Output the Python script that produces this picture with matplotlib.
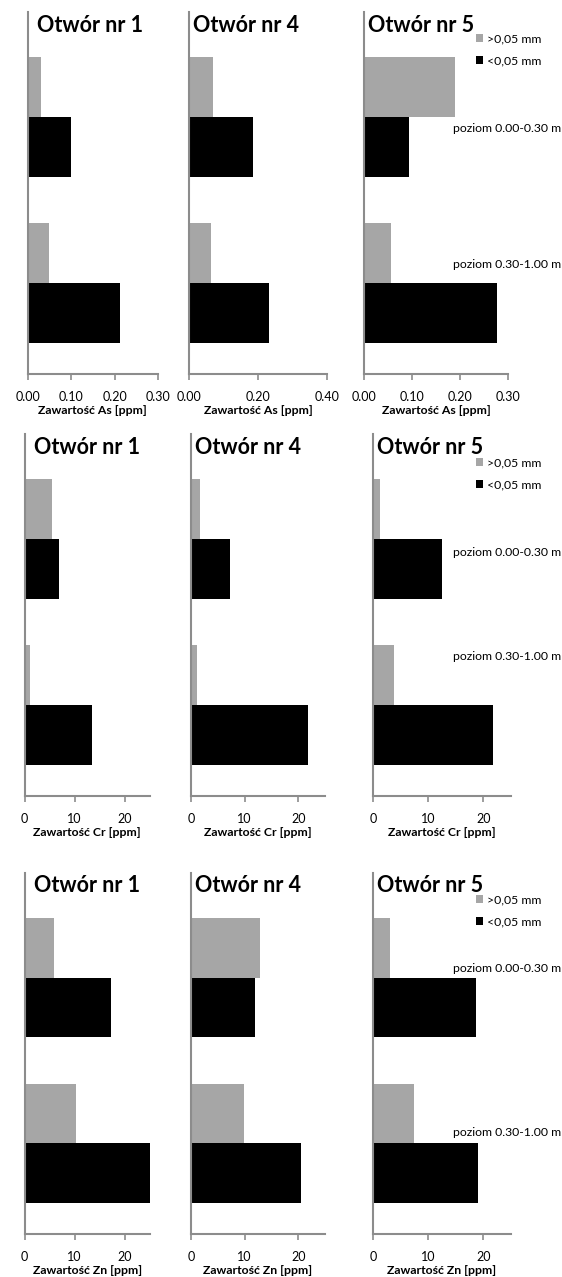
import numpy as np
import matplotlib
matplotlib.use("Agg")
import matplotlib.pyplot as plt

plt.rcParams['font.family'] = ['Lato', 'DejaVu Sans']

holes = ['Otwór nr 1', 'Otwór nr 4', 'Otwór nr 5']
levels = ['poziom 0.00-0.30 m', 'poziom 0.30-1.00 m']
fractions = ['>0,05 mm', '<0,05 mm']

# [hole][level]
as_coarse = [[0.03, 0.05], [0.071, 0.064], [0.19, 0.056]]
as_fine = [[0.10, 0.213], [0.185, 0.232], [0.093, 0.278]]
cr_coarse = [[5.5, 1.1], [1.6, 1.1], [1.2, 3.8]]
cr_fine = [[6.9, 13.4], [7.3, 21.8], [12.5, 21.8]]
zn_coarse = [[5.9, 10.2], [12.9, 9.8], [3.1, 7.5]]
zn_fine = [[17.2, 25.0], [12.0, 20.6], [18.7, 19.1]]

W, H = 562, 1277
GREY = '#a6a6a6'
AXC = '#8c8c8c'

def box(x0, x1, top, bot):
    return [x0 / W, 1 - bot / H, (x1 - x0) / W, (bot - top) / H]

rows = [
    dict(coarse=as_coarse, fine=as_fine, label='Zawartość As [ppm]',
         top=12, bot=374, cols=[(27.7, 158), (189, 327), (364, 508)],
         xlims=[0.3, 0.4, 0.3], steps=[0.1, 0.2, 0.1], fmt='%.2f',
         leg=50, lev=[128, 265]),
    dict(coarse=cr_coarse, fine=cr_fine, label='Zawartość Cr [ppm]',
         top=434, bot=796, cols=[(24.5, 150), (191, 325), (373, 511)],
         xlims=[25, 25, 25], steps=[10, 10, 10], fmt='%d',
         leg=474, lev=[552, 656]),
    dict(coarse=zn_coarse, fine=zn_fine, label='Zawartość Zn [ppm]',
         top=873, bot=1234, cols=[(24.5, 150), (191, 325), (373, 511)],
         xlims=[25, 25, 25], steps=[10, 10, 10], fmt='%d',
         leg=911, lev=[969, 1133]),
]

fig = plt.figure(figsize=(W / 100, H / 100), dpi=100)
pos = np.arange(len(levels))
h = 0.36

for r in rows:
    for i, (x0, x1) in enumerate(r['cols']):
        ax = fig.add_axes(box(x0, x1, r['top'], r['bot']))
        b1 = ax.barh(pos - h / 2, r['coarse'][i], height=h, color=GREY, label=fractions[0])
        b2 = ax.barh(pos + h / 2, r['fine'][i], height=h, color='black', label=fractions[1])
        ax.set_ylim(1.548, -0.633)
        ax.set_xlim(0, r['xlims'][i])
        ax.set_xticks(np.arange(0, r['xlims'][i] + 1e-9, r['steps'][i]))
        ax.xaxis.set_major_formatter(matplotlib.ticker.FormatStrFormatter(r['fmt']))
        ax.set_yticks([])
        for s in ['top', 'right']:
            ax.spines[s].set_visible(False)
        for s in ['left', 'bottom']:
            ax.spines[s].set_color(AXC)
            ax.spines[s].set_linewidth(1.5)
        ax.tick_params(axis='x', direction='out', length=4, width=1.2, color=AXC,
                       labelsize=9, pad=8)
        ax.set_xlabel(r['label'], fontsize=8.8, fontweight='bold', labelpad=1.5)
        fig.text((x0 + (9 if i == 0 else 4)) / W, 1 - (r['top'] + 13) / H, holes[i],
                 fontsize=15.5, fontweight='bold', va='center', ha='left')
        if i == 2:
            fig.legend(handles=[b1, b2], loc='center left',
                       bbox_to_anchor=(476 / W, 1 - r['leg'] / H),
                       frameon=False, fontsize=8.8, handlelength=0.6, handleheight=0.6,
                       handletextpad=0.3, labelspacing=0.9, borderpad=0, borderaxespad=0)
    for lev, y in zip(levels, r['lev']):
        fig.text(561 / W, 1 - y / H, lev, fontsize=8.8, ha='right', va='center')

fig.savefig('out.png', dpi=100)
